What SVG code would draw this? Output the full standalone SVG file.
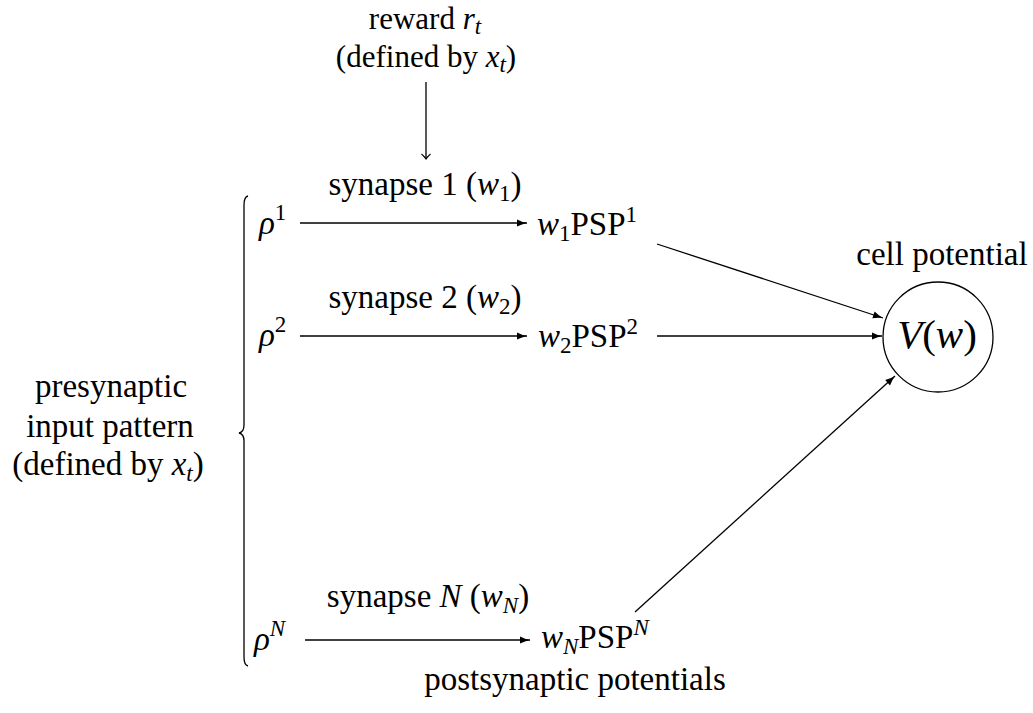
<svg xmlns="http://www.w3.org/2000/svg" width="1033" height="713" viewBox="0 0 1033 713">
<style>
.t{font-family:"Liberation Serif","Times New Roman",serif;font-size:33px;fill:#000}
.r{font-size:31px}
.i{font-style:italic}
.s{font-size:23px}
.ln{stroke:#000;stroke-width:1.3;fill:none}
</style>
<defs>
<marker id="lat" markerUnits="userSpaceOnUse" viewBox="-11 -5 12 10" refX="0" refY="0" markerWidth="12" markerHeight="10" orient="auto">
<path d="M-10,-3.6 Q-5,-1 0,0 Q-5,1 -10,3.6 Z" fill="#000"/>
</marker>
<marker id="to" markerUnits="userSpaceOnUse" viewBox="-8 -6 10 12" refX="0" refY="0" markerWidth="10" markerHeight="12" orient="auto">
<path d="M-5,-4.5 Q-1.5,-0.8 0,0 Q-1.5,0.8 -5,4.5" fill="none" stroke="#000" stroke-width="1.1"/>
</marker>
</defs>
<rect width="1033" height="713" fill="#fff"/>

<g id="reward">
<text class="t r" x="425" y="29" text-anchor="middle">reward <tspan class="i">r</tspan><tspan class="s i" dy="5">t</tspan></text>
<text class="t r" x="426" y="67" text-anchor="middle">(defined by <tspan class="i">x</tspan><tspan class="s i" dy="5">t</tspan><tspan dy="-5">)</tspan></text>
</g>

<g id="input-label">
<text class="t" x="111" y="397" text-anchor="middle">presynaptic</text>
<text class="t" x="110" y="437" text-anchor="middle">input pattern</text>
<text class="t" x="108" y="475" text-anchor="middle">(defined by <tspan class="i">x</tspan><tspan class="s i" dy="6">t</tspan><tspan dy="-6">)</tspan></text>
</g>

<g id="brace">
<path class="ln" d="M248,196 Q244,197 244,205 L244,425 Q244,432 239,433 Q244,434 244,441 L244,657 Q244,665 248,666"/>
</g>

<g id="rho1"><text class="t" x="259" y="234"><tspan class="i">ρ</tspan><tspan class="s" dy="-14">1</tspan></text></g>
<g id="rho2"><text class="t" x="259" y="346"><tspan class="i">ρ</tspan><tspan class="s" dy="-14">2</tspan></text></g>
<g id="rhoN"><text class="t" x="254" y="650"><tspan class="i">ρ</tspan><tspan class="s i" dy="-14">N</tspan></text></g>

<g id="psp1"><text class="t" x="537" y="235"><tspan class="i">w</tspan><tspan class="s" dy="6">1</tspan><tspan dy="-6">PSP</tspan><tspan class="s" dy="-13">1</tspan></text></g>
<g id="psp2"><text class="t" x="538" y="347"><tspan class="i">w</tspan><tspan class="s" dy="6">2</tspan><tspan dy="-6">PSP</tspan><tspan class="s" dy="-13">2</tspan></text></g>
<g id="pspN"><text class="t" x="541" y="648"><tspan class="i">w</tspan><tspan class="s i" dy="6">N</tspan><tspan dy="-6">PSP</tspan><tspan class="s i" dy="-13">N</tspan></text></g>

<g id="cell">
<circle cx="938" cy="337" r="55" class="ln"/>
<text class="t" x="937" y="348" text-anchor="middle" style="font-size:41px"><tspan class="i">V</tspan>(<tspan class="i">w</tspan>)</text>
<text class="t" x="942" y="265" text-anchor="middle">cell potential</text>
</g>

<g id="postsyn-label">
<text class="t" x="575" y="690" text-anchor="middle">postsynaptic potentials</text>
</g>

<g id="connectors">
<line class="ln" x1="426" y1="82" x2="426" y2="159" marker-end="url(#to)"/>
<line class="ln" x1="300" y1="223" x2="527" y2="223" marker-end="url(#lat)"/>
<line class="ln" x1="300" y1="336" x2="527" y2="336" marker-end="url(#lat)"/>
<line class="ln" x1="305" y1="640" x2="530" y2="640" marker-end="url(#lat)"/>
<line class="ln" x1="657" y1="244" x2="883" y2="318" marker-end="url(#lat)"/>
<line class="ln" x1="657" y1="336" x2="882" y2="336" marker-end="url(#lat)"/>
<line class="ln" x1="635" y1="612" x2="895" y2="376" marker-end="url(#lat)"/>
<text class="t" x="425" y="195" text-anchor="middle">synapse 1 (<tspan class="i">w</tspan><tspan class="s" dy="6">1</tspan><tspan dy="-6">)</tspan></text>
<text class="t" x="425" y="308" text-anchor="middle">synapse 2 (<tspan class="i">w</tspan><tspan class="s" dy="6">2</tspan><tspan dy="-6">)</tspan></text>
<text class="t" x="428" y="607" text-anchor="middle">synapse <tspan class="i">N</tspan> (<tspan class="i">w</tspan><tspan class="s i" dy="6">N</tspan><tspan dy="-6">)</tspan></text>
</g>
</svg>
